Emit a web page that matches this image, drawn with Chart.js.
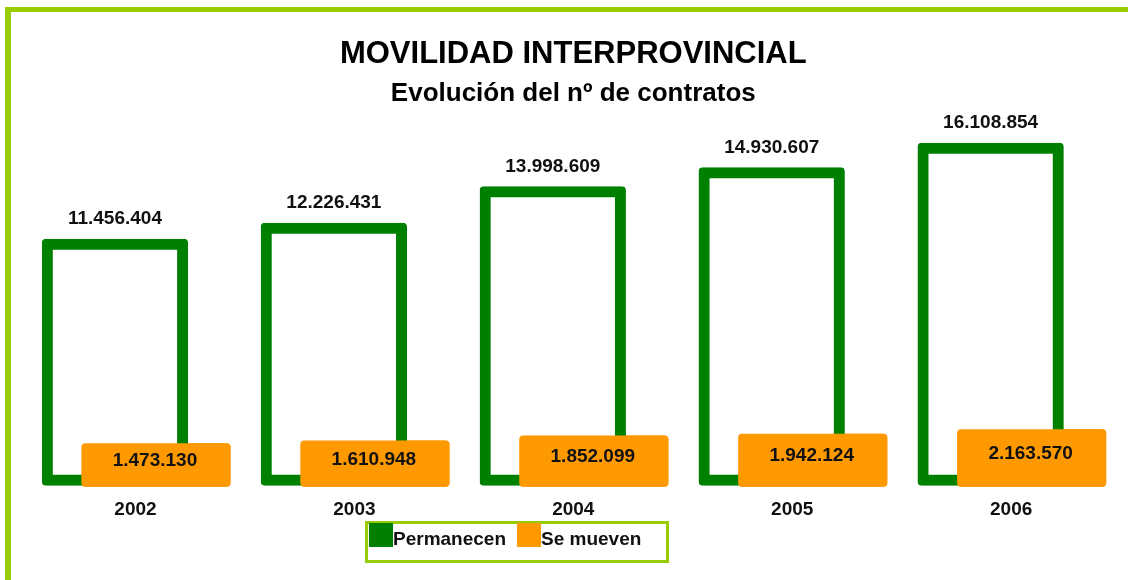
<!DOCTYPE html>
<html>
<head>
<meta charset="utf-8">
<script src="https://cdn.jsdelivr.net/npm/chart.js@4.4.1/dist/chart.umd.min.js"></script>
<style>
html,body{margin:0;padding:0;background:#fff;}
#wrap{position:relative;width:1128px;height:580px;overflow:hidden;background:#fff;}
#frame{position:absolute;left:5px;top:7px;width:1200px;height:700px;border-top:5px solid #99cc00;border-left:6px solid #99cc00;pointer-events:none;box-sizing:content-box;}
#legend{position:absolute;left:365px;top:521px;width:298px;height:36px;border:3px solid #99cc00;font:bold 19px "Liberation Sans", Arial, sans-serif;color:#111;}
.item{position:absolute;top:-1px;height:24px;display:flex;align-items:flex-start;white-space:nowrap;}
.sw{width:24px;height:24px;flex:none;}
.tx{line-height:24px;position:relative;top:4px;}
</style>
</head>
<body>
<div id="wrap">
  <canvas id="c" width="1128" height="580"></canvas>
  <div id="frame"></div>
  <div id="legend"></div>
</div>
<script>
const categories = ['2002', '2003', '2004', '2005', '2006'];
const permanecen = [11456404, 12226431, 13998609, 14930607, 16108854];
const seMueven = [1473130, 1610948, 1852099, 1942124, 2163570];
const seriesNames = ['Permanecen', 'Se mueven'];
const seriesColors = ['#008000', '#ff9900'];
const titleText = 'MOVILIDAD INTERPROVINCIAL';
const subtitleText = 'Evolución del nº de contratos';

const FONT = '"Liberation Sans", Arial, sans-serif';
Chart.defaults.font.family = FONT;

function fmt(v) {
  return String(v).replace(/\B(?=(\d{3})+(?!\d))/g, '.');
}

const labelPlugin = {
  id: 'valueLabels',
  afterDatasetsDraw(chart) {
    const ctx = chart.ctx;
    const g = chart.getDatasetMeta(0);
    const o = chart.getDatasetMeta(1);
    // orange bars sit in front of the green outlined bars
    o.data.forEach(el => el.draw(ctx));
    ctx.save();
    ctx.fillStyle = '#111';
    ctx.textAlign = 'center';
    ctx.font = 'bold 19px ' + FONT;
    ctx.textBaseline = 'alphabetic';
    g.data.forEach((el, i) => ctx.fillText(fmt(permanecen[i]), el.x, el.y - 20));
    ctx.textBaseline = 'middle';
    o.data.forEach((el, i) => ctx.fillText(fmt(seMueven[i]), el.x - 1, (el.y + el.base) / 2 - 4));
    ctx.restore();
  }
};

new Chart(document.getElementById('c'), {
  type: 'bar',
  data: {
    labels: categories,
    datasets: [
      {
        label: seriesNames[0],
        data: permanecen,
        backgroundColor: '#ffffff',
        borderColor: seriesColors[0],
        borderWidth: 11,
        borderSkipped: false,
        borderRadius: 4,
        inflateAmount: 5.5,
        clip: false,
        barPercentage: 3.3,
        categoryPercentage: 0.3746
      },
      {
        label: seriesNames[1],
        data: seMueven,
        backgroundColor: seriesColors[1],
        borderColor: seriesColors[1],
        borderWidth: 0,
        borderSkipped: false,
        borderRadius: 4,
        inflateAmount: 6.5,
        clip: false,
        barPercentage: 3.32,
        categoryPercentage: 0.3746
      }
    ]
  },
  options: {
    responsive: false,
    animation: false,
    devicePixelRatio: 1,
    layout: { padding: { left: 26, right: 7.4, top: 0, bottom: 41 } },
    plugins: {
      legend: { display: false },
      tooltip: { enabled: false },
      title: {
        display: true,
        text: titleText,
        color: '#000',
        font: { size: 31, weight: 'bold', family: FONT },
        padding: { top: 36, bottom: 5 }
      },
      subtitle: {
        display: true,
        text: subtitleText,
        color: '#000',
        font: { size: 26, weight: 'bold', family: FONT },
        padding: { top: 0, bottom: 0 }
      }
    },
    scales: {
      x: {
        grid: { display: false, drawTicks: false },
        border: { display: false },
        ticks: { color: '#111', font: { size: 19, weight: 'bold', family: FONT }, padding: 18 }
      },
      y: {
        display: false,
        min: 0,
        max: 18000000
      }
    }
  },
  plugins: [labelPlugin]
});

// legend box
const lg = document.getElementById('legend');
const legendLefts = [1, 149];
seriesNames.forEach((name, i) => {
  const it = document.createElement('div');
  it.className = 'item';
  it.style.left = legendLefts[i] + 'px';
  const sw = document.createElement('span');
  sw.className = 'sw';
  sw.style.background = seriesColors[i];
  const tx = document.createElement('span');
  tx.className = 'tx';
  tx.textContent = name;
  it.appendChild(sw);
  it.appendChild(tx);
  lg.appendChild(it);
});
</script>
</body>
</html>
